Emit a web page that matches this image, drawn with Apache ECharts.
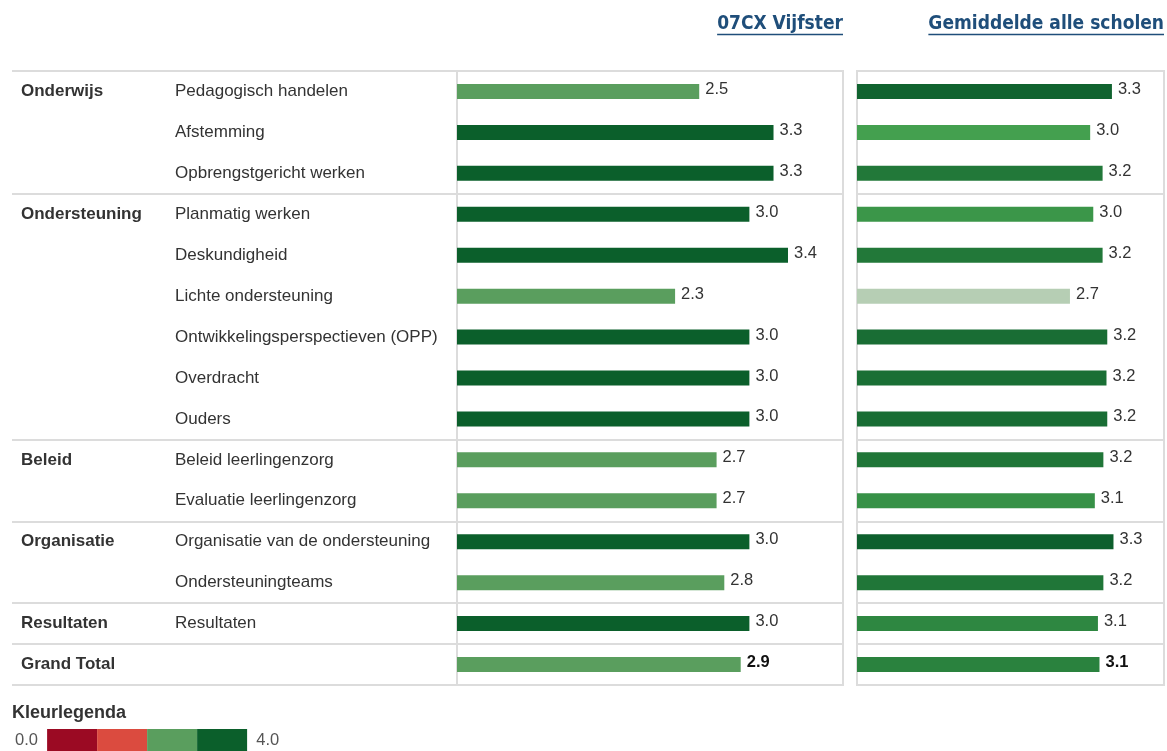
<!DOCTYPE html>
<html>
<head>
<meta charset="utf-8">
<style>
    html, body{ margin: 0; padding: 0; background: #fff;}
    #chart{ width: 1167px; height: 751px;}
</style>
<script src="https://cdn.jsdelivr.net/npm/echarts@6/dist/echarts.min.js"></script>
</head>
<body>
<div id="chart"></div>
<script>
    // rubrieken en onderdelen, van boven naar beneden
    var groupLabels = ['Onderwijs', '', '', 'Ondersteuning', '', '', '', '', '', 'Beleid', '', 'Organisatie', '', 'Resultaten', 'Grand Total'];
    var itemLabels = ['Pedagogisch handelen', 'Afstemming', 'Opbrengstgericht werken', 'Planmatig werken', 'Deskundigheid',
        'Lichte ondersteuning', 'Ontwikkelingsperspectieven (OPP)', 'Overdracht', 'Ouders', 'Beleid leerlingenzorg',
        'Evaluatie leerlingenzorg', 'Organisatie van de ondersteuning', 'Ondersteuningteams', 'Resultaten', ''];
    var schoolValues = [2.51, 3.28, 3.28, 3.03, 3.43, 2.26, 3.03, 3.03, 3.03, 2.69, 2.69, 3.03, 2.77, 3.03, 2.94];
    var averageValues = [3.28, 3.00, 3.16, 3.04, 3.16, 2.74, 3.22, 3.21, 3.22, 3.17, 3.06, 3.30, 3.17, 3.10, 3.12];
    var panelTitles = ['07CX Vijfster', 'Gemiddelde alle scholen'];
    var legendTitle = 'Kleurlegenda';
    var legendEnds = ['4.0', '0.0'];
    var legendSteps = [0, 1, 2, 3, 4];

    var FONT = '"Liberation Sans", Arial, sans-serif';
    var HEAD_FONT = '"DejaVu Sans Condensed", "Liberation Sans", sans-serif';
    var LINE = '#dcdcdc';
    var stepColors = ['#9b0a23', '#db4b3f', '#5a9e5e', '#0b5f2b'];
    var GAP = '\u00a0\u00a0';

    function isGroupStart(index){ return groupLabels[index] !== ''; }

    function textWidth(txt, font){
        var ctx = document.createElement('canvas').getContext('2d');
        ctx.font = font;
        return ctx.measureText(txt).width;
    }

    function panelAxis(gridIndex){
        return {
            gridIndex: gridIndex, type: 'category', inverse: true, data: itemLabels,
            axisLine: {show: false}, axisTick: {show: false}, axisLabel: {show: false},
            splitLine: {show: true, interval: isGroupStart, lineStyle: {color: LINE, width: 2}}
        };
    }

    function valueLabel(){
        return {
            show: true, position: 'right', distance: 6, offset: [0, -2],
            fontFamily: FONT, fontSize: 16.5, color: '#333',
            formatter: function(p){
                var s = p.value[0].toFixed(1);
                return p.dataIndex === itemLabels.length - 1 ? '{b|' + s + '}' : s;
            },
            rich: {b: {fontFamily: FONT, fontSize: 16.5, fontWeight: 'bold', color: '#111'}}
        };
    }

    var pieces = [];
    for (var i = 0; i < legendSteps.length - 1; i++) {
        pieces.push({gte: legendSteps[i], lt: legendSteps[i + 1], color: stepColors[i]});
    }
    pieces[pieces.length - 1].lte = legendSteps[legendSteps.length - 1];
    delete pieces[pieces.length - 1].lt;

    var headFont = 'bold 19px ' + HEAD_FONT;
    var headRight = [843, 1164];
    var graphics = [];
    panelTitles.forEach(function(t, k){
        var w = textWidth(t, headFont);
        graphics.push({
            type: 'text', left: headRight[k] - w, top: 15,
            style: {text: t, font: headFont, fill: '#1f4e7a'}
        });
        graphics.push({
            type: 'line', shape: {x1: headRight[k] - w, y1: 34.5, x2: headRight[k], y2: 34.5},
            style: {stroke: '#1f4e7a', lineWidth: 1.5}
        });
    });
    graphics.push({
        type: 'text', left: 12, top: 704,
        style: {text: legendTitle, font: 'bold 18px ' + FONT, fill: '#333'}
    });

    var chart = echarts.init(document.getElementById('chart'));
    chart.setOption({
        animation: false,
        backgroundColor: '#fff',
        grid: [
            {left: 12, top: 71, width: 445, height: 614},
            {left: 457, top: 71, width: 386, height: 614, show: true, borderColor: LINE, borderWidth: 2},
            {left: 857, top: 71, width: 307, height: 614, show: true, borderColor: LINE, borderWidth: 2}
        ],
        xAxis: [
            {gridIndex: 0, type: 'value', show: false, min: 0, max: 1},
            {gridIndex: 1, type: 'value', show: false, min: 0, max: 4},
            {gridIndex: 2, type: 'value', show: false, min: 0, max: 3.95}
        ],
        yAxis: [
            {
                gridIndex: 0, type: 'category', inverse: true, position: 'left', data: itemLabels,
                axisLine: {show: false}, axisTick: {show: false}, splitLine: {show: false},
                axisLabel: {inside: true, interval: 0, margin: 163, align: 'left', padding: [0, 0, 5, 0],
                    fontFamily: FONT, fontSize: 17, color: '#333'}
            },
            {
                gridIndex: 0, type: 'category', inverse: true, position: 'left', data: groupLabels,
                axisLine: {show: false}, axisTick: {show: false},
                axisLabel: {inside: true, interval: 0, margin: 9, align: 'left', padding: [0, 0, 4, 0],
                    fontFamily: FONT, fontSize: 17, fontWeight: 'bold', color: '#333'},
                splitLine: {show: true, interval: isGroupStart, lineStyle: {color: LINE, width: 2}}
            },
            panelAxis(1),
            panelAxis(2)
        ],
        visualMap: [
            {
                type: 'piecewise', seriesIndex: 0, dimension: 0, orient: 'horizontal',
                left: 15, top: 729, padding: 0, itemWidth: 50, itemHeight: 22, itemGap: 0, itemSymbol: 'rect',
                text: [GAP + legendEnds[0], legendEnds[1] + GAP], hoverLink: false,
                textStyle: {fontFamily: FONT, fontSize: 16.5, color: '#555'},
                pieces: pieces
            },
            {
                type: 'continuous', seriesIndex: 1, dimension: 0, show: false,
                min: 2.70, max: 3.30,
                inRange: {color: ['#c8d6c3', '#86b98a', '#44a04f', '#237a3a', '#0d5f2d']}
            }
        ],
        series: [
            {
                type: 'bar', xAxisIndex: 1, yAxisIndex: 2, barWidth: 15, silent: true,
                data: schoolValues.map(function(v, i){ return [v, i]; }),
                label: valueLabel()
            },
            {
                type: 'bar', xAxisIndex: 2, yAxisIndex: 3, barWidth: 15, silent: true,
                data: averageValues.map(function(v, i){ return [v, i]; }),
                label: valueLabel()
            }
        ],
        graphic: graphics
    });
</script>
</body>
</html>
